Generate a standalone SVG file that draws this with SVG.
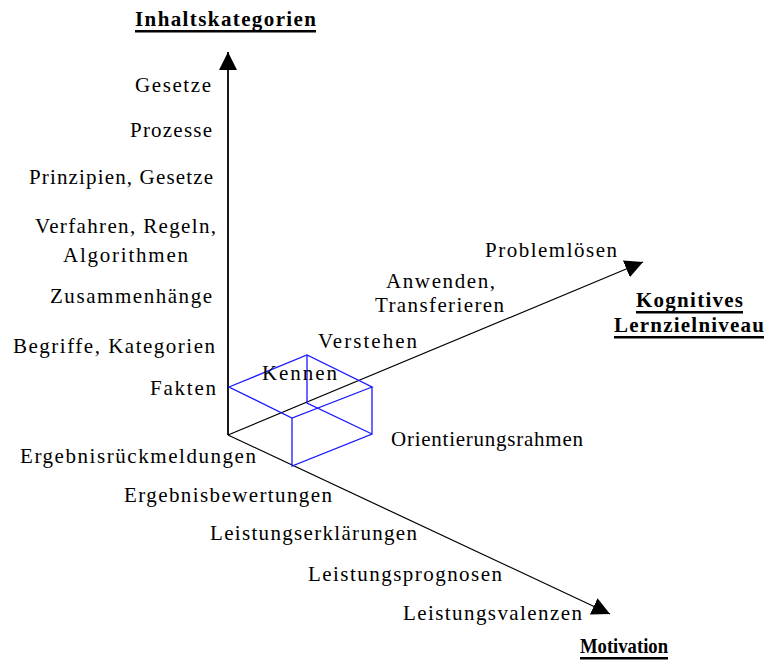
<svg xmlns="http://www.w3.org/2000/svg" width="769" height="666" viewBox="0 0 769 666">
<defs>
<style>
text{font-family:'Liberation Serif','DejaVu Serif','Times New Roman',serif;font-size:21px;fill:#000}
.t{font-weight:bold}
.ax{stroke:#000;fill:none}
.cube{stroke:#1a1aff;stroke-width:1.3;fill:none}
.ul{fill:#000}
</style>
<marker id="ah" markerUnits="userSpaceOnUse" markerWidth="20" markerHeight="20" refX="18" refY="9" orient="auto">
<path d="M0,0 L18,9 L0,18 Z" fill="#000"/>
</marker>
</defs>
<rect width="769" height="666" fill="#fff"/>
<g id="connectors">
<line class="ax" x1="228" y1="435" x2="228" y2="52" stroke-width="1.8" marker-end="url(#ah)"/>
<line class="ax" x1="228" y1="435" x2="643" y2="262" stroke-width="1.2" marker-end="url(#ah)"/>
<line class="ax" x1="228" y1="435" x2="610" y2="614" stroke-width="1.2" marker-end="url(#ah)"/>
</g>
<g id="cube">
<path class="cube" d="M229,387 L307,355 L372,387 L292,418 Z"/>
<path class="cube" d="M292,418 L292,466 L372,434 L372,387"/>
<path class="cube" d="M307,355 L307,403 L372,434"/>
</g>
<g id="title-inhalt">
<text class="t" x="135" y="26" textLength="181" lengthAdjust="spacing">Inhaltskategorien</text>
<rect class="ul" x="135" y="30" width="181" height="2.5"/>
</g>
<g id="title-kognitiv">
<text class="t" x="636" y="307" textLength="107" lengthAdjust="spacing">Kognitives</text>
<rect class="ul" x="636" y="311" width="107" height="2.5"/>
<text class="t" x="614" y="332" textLength="150" lengthAdjust="spacing">Lernzielniveau</text>
<rect class="ul" x="614" y="336" width="150" height="2.5"/>
</g>
<g id="title-motivation">
<text class="t" x="580" y="653" textLength="88" lengthAdjust="spacingAndGlyphs">Motivation</text>
<rect class="ul" x="580" y="657" width="88" height="2.5"/>
</g>
<g id="inhalt-labels">
<text x="135" y="92" textLength="76" lengthAdjust="spacing">Gesetze</text>
<text x="130" y="137" textLength="82" lengthAdjust="spacing">Prozesse</text>
<text x="29" y="184" textLength="184" lengthAdjust="spacing">Prinzipien, Gesetze</text>
<text x="35" y="233" textLength="181" lengthAdjust="spacing">Verfahren, Regeln,</text>
<text x="63" y="262" textLength="125" lengthAdjust="spacing">Algorithmen</text>
<text x="50" y="303" textLength="162" lengthAdjust="spacing">Zusammenhänge</text>
<text x="13" y="353" textLength="202" lengthAdjust="spacing">Begriffe, Kategorien</text>
<text x="150" y="395" textLength="66" lengthAdjust="spacing">Fakten</text>
</g>
<g id="kognitiv-labels">
<text x="262" y="380" textLength="75" lengthAdjust="spacing">Kennen</text>
<text x="318" y="348" textLength="99" lengthAdjust="spacing">Verstehen</text>
<text x="386" y="288" textLength="109" lengthAdjust="spacing">Anwenden,</text>
<text x="375" y="312" textLength="129" lengthAdjust="spacing">Transferieren</text>
<text x="485" y="257" textLength="132" lengthAdjust="spacing">Problemlösen</text>
<text x="391" y="446" textLength="192" lengthAdjust="spacing">Orientierungsrahmen</text>
</g>
<g id="motivation-labels">
<text x="20" y="463" textLength="236" lengthAdjust="spacing">Ergebnisrückmeldungen</text>
<text x="124" y="502" textLength="208" lengthAdjust="spacing">Ergebnisbewertungen</text>
<text x="210" y="540" textLength="207" lengthAdjust="spacing">Leistungserklärungen</text>
<text x="308" y="581" textLength="194" lengthAdjust="spacing">Leistungsprognosen</text>
<text x="403" y="620" textLength="179" lengthAdjust="spacing">Leistungsvalenzen</text>
</g>
</svg>
